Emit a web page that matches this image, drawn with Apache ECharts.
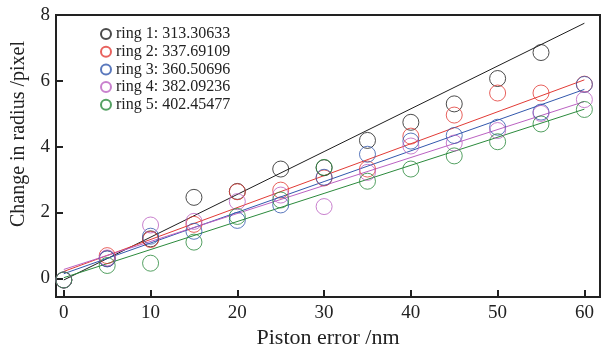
<!DOCTYPE html>
<html>
<head>
<meta charset="utf-8">
<script src="https://cdn.jsdelivr.net/npm/echarts@6/dist/echarts.min.js"></script>
<style>html,body{margin:0;padding:0;background:#fff;}#c{width:601px;height:354px;}</style>
</head>
<body>
<div id="c"></div>
<script>
// ---- data ----
var pistonError = [0, 5, 10, 15, 20, 25, 30, 35, 40, 45, 50, 55, 60];
var ringNames = ['ring 1: 313.30633', 'ring 2: 337.69109', 'ring 3: 360.50696', 'ring 4: 382.09236', 'ring 5: 402.45477'];
var ring1 = [-0.05, 0.60, 1.20, 2.46, 2.64, 3.32, 3.36, 4.19, 4.74, 5.30, 6.07, 6.86, null];
var ring2 = [-0.05, 0.69, 1.18, 1.64, 2.63, 2.68, 3.05, 3.32, 4.32, 4.96, 5.63, 5.63, 5.90];
var ring3 = [-0.05, 0.59, 1.28, 1.43, 1.76, 2.23, 3.07, 3.77, 4.17, 4.34, 4.59, 5.05, 5.89];
var ring4 = [-0.05, 0.62, 1.62, 1.73, 2.33, 2.53, 2.18, 3.22, 4.02, 4.11, 4.49, 5.01, 5.43];
var ring5 = [-0.05, 0.39, 0.46, 1.10, 1.88, 2.38, 3.37, 2.95, 3.32, 3.72, 4.15, 4.69, 5.13];
// fitted lines: value at x = 0 and x = 60
var fitX = [0, 60];
var fit1 = [-0.05, 7.75];
var fit2 = [0.21, 6.03];
var fit3 = [0.14, 5.74];
var fit4 = [0.27, 5.37];
var fit5 = [0.02, 5.14];
var xTicks = [0, 10, 20, 30, 40, 50, 60];
var yTicks = [0, 2, 4, 6, 8];

var colors = ['#1e1e1e', '#e23b36', '#3258ad', '#bb62c2', '#2b8a3c'];
var rings = [ring1, ring2, ring3, ring4, ring5];
var fits = [fit1, fit2, fit3, fit4, fit5];
var FONT = 'Liberation Serif';

function pairs(xs, ys) {
  var out = [];
  for (var i = 0; i < xs.length; i++) { if (ys[i] != null) out.push([xs[i], ys[i]]); }
  return out;
}

var series = [];
fits.forEach(function (f, i) {
  series.push({
    type: 'line', data: pairs(fitX, f), showSymbol: false, silent: true,
    lineStyle: { color: colors[i], width: 1 }, z: 2
  });
});
rings.forEach(function (r, i) {
  series.push({
    type: 'scatter', name: ringNames[i], data: pairs(pistonError, r),
    symbol: 'circle', symbolSize: 16,
    itemStyle: { color: 'rgba(0,0,0,0)', borderColor: colors[i], borderWidth: 1 }, z: 3
  });
});

var chart = echarts.init(document.getElementById('c'), null, { renderer: 'canvas' });
chart.setOption({
  animation: false,
  backgroundColor: '#fff',
  grid: { left: 56, right: 1, top: 15, bottom: 52, containLabel: false,
          show: true, borderColor: '#222', borderWidth: 2 },
  legend: {
    data: ringNames, orient: 'vertical', left: 100, top: 26,
    itemWidth: 10, itemHeight: 10, itemGap: 1.7, padding: 0,
    textStyle: { fontFamily: FONT, fontSize: 16, color: '#222', lineHeight: 15 }
  },
  xAxis: {
    type: 'value', min: -0.9, max: 61.8,
    name: 'Piston error /nm', nameLocation: 'middle', nameGap: 29,
    nameTextStyle: { fontFamily: FONT, fontSize: 22, color: '#222' },
    axisLine: { show: true, onZero: false, lineStyle: { color: '#222', width: 2 } },
    axisTick: { show: true, inside: true, length: 7, customValues: xTicks, lineStyle: { color: '#222', width: 2 } },
    axisLabel: { customValues: xTicks, fontFamily: FONT, fontSize: 19, color: '#222', margin: 6 },
    splitLine: { show: false }
  },
  yAxis: {
    type: 'value', min: -0.57, max: 8,
    name: 'Change in radius /pixel', nameLocation: 'middle', nameGap: 27,
    nameTextStyle: { fontFamily: FONT, fontSize: 20, color: '#222', padding: [0, 0, 0, 44] },
    axisLine: { show: true, onZero: false, lineStyle: { color: '#222', width: 2 } },
    axisTick: { show: true, inside: true, length: 7, customValues: yTicks, lineStyle: { color: '#222', width: 2 } },
    axisLabel: { customValues: yTicks, fontFamily: FONT, fontSize: 19, color: '#222', margin: 6 },
    splitLine: { show: false }
  },
  series: series
});
</script>
</body>
</html>
